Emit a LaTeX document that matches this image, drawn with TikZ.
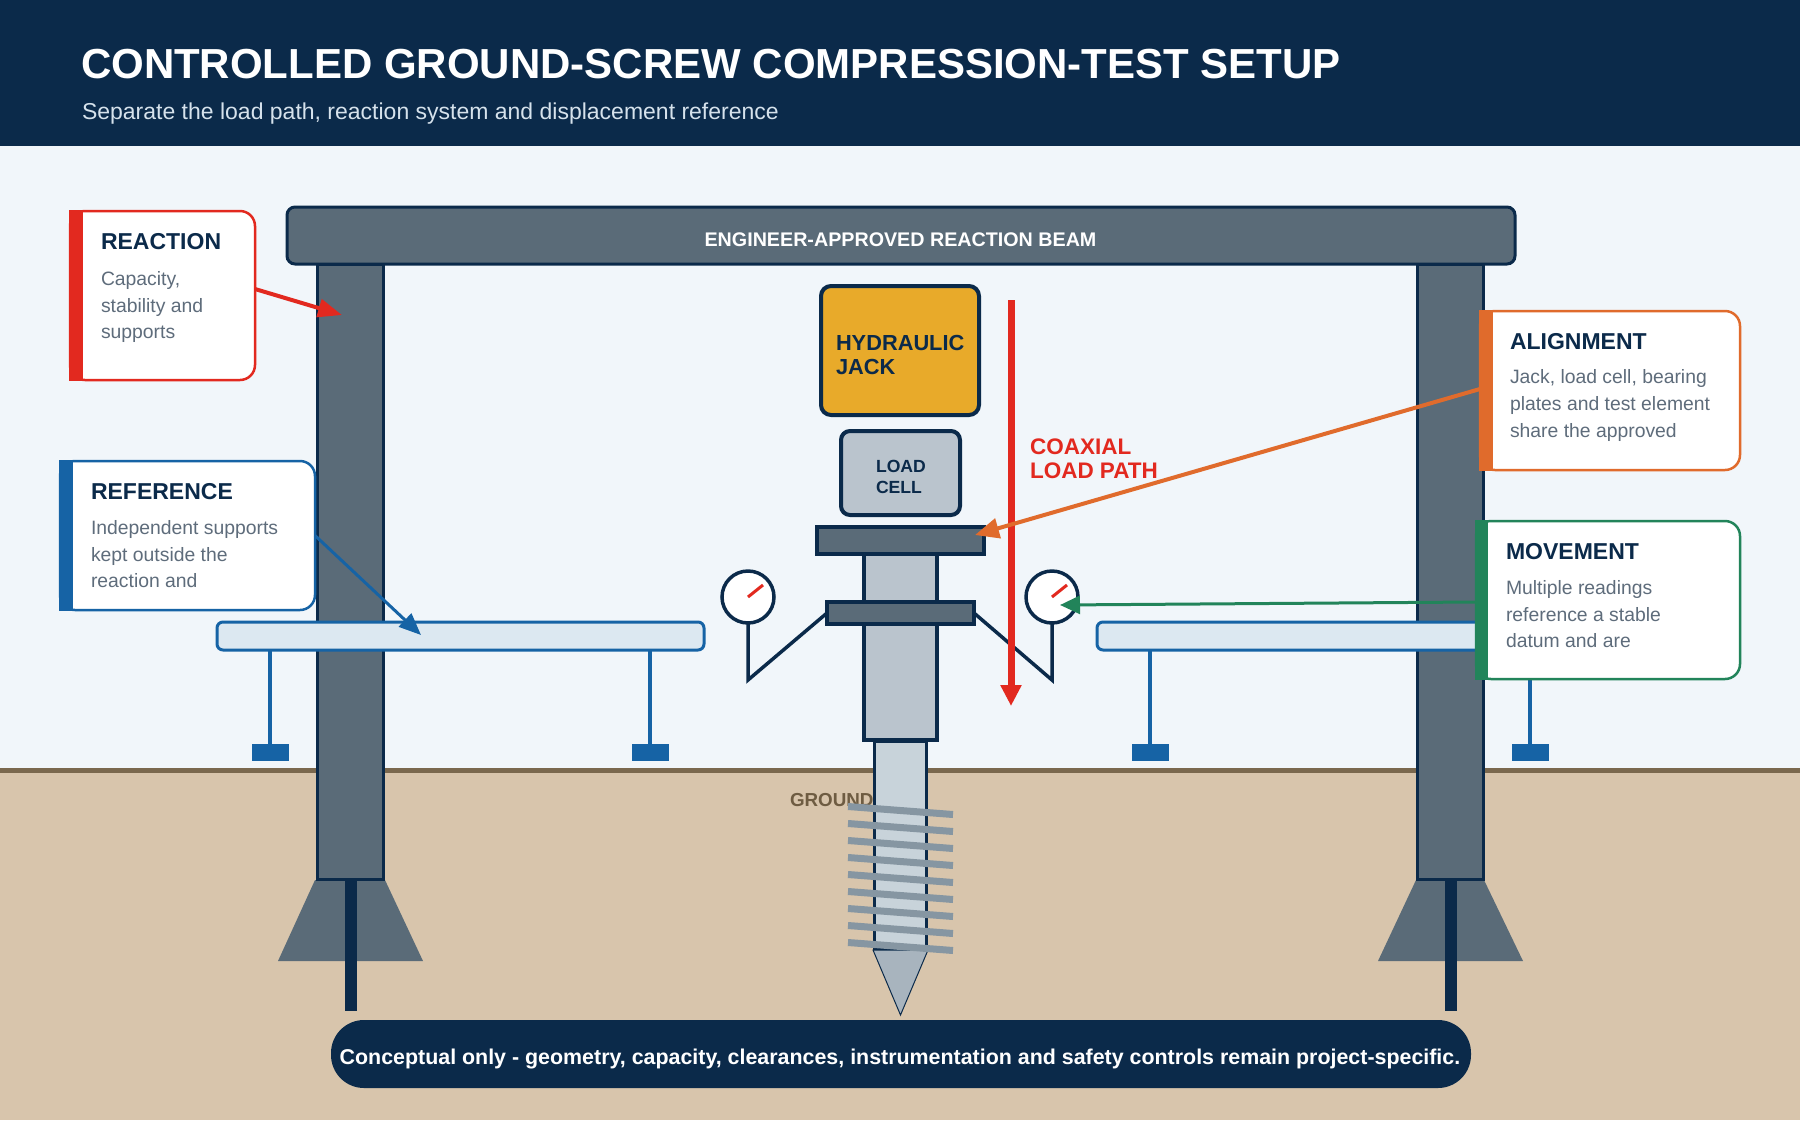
\documentclass[tikz,border=0pt]{standalone}
\usepackage{fontspec}
\setmainfont{Liberation Sans}
\usetikzlibrary{arrows.meta}
\definecolor{navy}{HTML}{0B2A4A}
\definecolor{steel}{HTML}{5A6B78}
\definecolor{bglight}{HTML}{F1F6FA}
\definecolor{groundc}{HTML}{D8C5AC}
\definecolor{groundl}{HTML}{7A684E}
\definecolor{refb}{HTML}{DCE8F1}
\definecolor{refs}{HTML}{1663A5}
\definecolor{jackc}{HTML}{E8AA2A}
\definecolor{cellc}{HTML}{BAC4CD}
\definecolor{shaftc}{HTML}{C8D3DA}
\definecolor{tipc}{HTML}{A8B4BE}
\definecolor{helixc}{HTML}{8696A2}
\definecolor{redc}{HTML}{E2291F}
\definecolor{orangec}{HTML}{E06B2C}
\definecolor{greenc}{HTML}{22845A}
\definecolor{greyt}{HTML}{5E6C7B}
\definecolor{subc}{HTML}{D6E2EC}
\definecolor{groundt}{HTML}{6E5C42}
\newcommand\fTitle{\fontsize{42}{50}\selectfont\bfseries}
\newcommand\fSub{\fontsize{23}{28}\selectfont}
\newcommand\fBeam{\fontsize{19.7}{24}\selectfont\bfseries}
\newcommand\fJack{\fontsize{21.8}{24}\selectfont\bfseries}
\newcommand\fCoax{\fontsize{22.5}{24}\selectfont\bfseries}
\newcommand\fCell{\fontsize{17.6}{21}\selectfont\bfseries}
\newcommand\fGround{\fontsize{18.8}{22}\selectfont\bfseries}
\newcommand\fCTitle{\fontsize{23}{27}\selectfont\bfseries}
\newcommand\fBody{\fontsize{19.35}{27}\selectfont}
\newcommand\fBanner{\fontsize{21.4}{25}\selectfont\bfseries}
\begin{document}
\begin{tikzpicture}[x=1pt,y=-1pt,
  every node/.style={inner sep=0pt, outer sep=0pt},
  steelbox/.style={draw=navy, line width=3pt, fill=steel},
  callout/.style={draw=#1, line width=2.5pt, fill=white, rounded corners=15pt, anchor=north west},
  ctitle/.style={anchor=base west, text=navy, font=\fCTitle},
  cbody/.style={anchor=base west, text=greyt, font=\fBody},
  gauge/.style={circle, draw=navy, line width=3.5pt, fill=white, minimum size=52pt},
  reflegs/.style={refs, line width=4pt},
]
\useasboundingbox (0,0) rectangle (1800,1120);
% backgrounds
\fill[bglight] (0,0) rectangle (1800,1120);
\fill[navy] (0,0) rectangle (1800,146);
\fill[groundc] (0,770) rectangle (1800,1120);
\draw[groundl, line width=4.5pt] (0,770.5) -- (1800,770.5);
% header
\node[anchor=base west, text=white, font=\fTitle] (title) at (81,78) {CONTROLLED GROUND-SCREW COMPRESSION-TEST SETUP};
\node[anchor=base west, text=subc, font=\fSub] (subtitle) at (82,119) {Separate the load path, reaction system and displacement reference};
% footings and rods
\fill[steel] (315,880) -- (385,880) -- (423,961) -- (278,961) -- cycle;
\fill[steel] (1416,880) -- (1484,880) -- (1523,961) -- (1378,961) -- cycle;
\fill[navy] (345,879) rectangle (357,1011);
\fill[navy] (1445,879) rectangle (1457,1011);
% columns
\draw[steelbox] (317.5,264) rectangle (383.5,879);
\draw[steelbox] (1417.5,264) rectangle (1483.5,879);
% beam
\node[steelbox, rounded corners=8pt, minimum width=1228pt, minimum height=57pt, anchor=north west] (beam) at (287,207) {};
\node[anchor=base, text=white, font=\fBeam] (beamlbl) at (900.5,246) {ENGINEER-APPROVED REACTION BEAM};
% reference beams
\draw[reflegs] (270,650) -- (270,745);
\draw[reflegs] (650,650) -- (650,745);
\draw[reflegs] (1150,650) -- (1150,745);
\draw[reflegs] (1530,650) -- (1530,745);
\fill[refs] (251.5,744) rectangle (288.5,761);
\fill[refs] (631.5,744) rectangle (668.5,761);
\fill[refs] (1131.5,744) rectangle (1168.5,761);
\fill[refs] (1511.5,744) rectangle (1548.5,761);
\node[draw=refs, fill=refb, line width=3pt, rounded corners=6pt, minimum width=487pt, minimum height=28pt, anchor=north west] (refL) at (217,622) {};
\node[draw=refs, fill=refb, line width=3pt, rounded corners=6pt, minimum width=487pt, minimum height=28pt, anchor=north west] (refR) at (1097,622) {};
% jack and load cell
\node[draw=navy, line width=4pt, fill=jackc, rounded corners=10pt, minimum width=158pt, minimum height=129pt, anchor=north west] (jack) at (821,286) {};
\node[anchor=base west, text=navy, font=\fJack] (jackA) at (836,350) {HYDRAULIC};
\node[anchor=base west, text=navy, font=\fJack] (jackB) at (836,374) {JACK};
\node[draw=navy, line width=4pt, fill=cellc, rounded corners=9pt, minimum width=119pt, minimum height=84pt, anchor=north west] (cell) at (841,431) {};
\node[anchor=base west, text=navy, font=\fCell] (cellA) at (876,472) {LOAD};
\node[anchor=base west, text=navy, font=\fCell] (cellB) at (876,493) {CELL};
% ram, shaft, helix, tip
\draw[navy, line width=3.5pt, fill=cellc] (864,554) rectangle (937,740);
\node[anchor=base west, text=groundt, font=\fGround] (groundlbl) at (790,806) {GROUND};
\draw[navy, line width=3pt, fill=shaftc] (874.5,741) rectangle (926.5,949);
\draw[navy, line width=1pt, fill=tipc] (873,950) -- (928,950) -- (900.5,1015) -- cycle;
\foreach \k in {0,...,8} \draw[helixc, line width=7pt] (848,{806.5+17*\k}) -- (953,{814.5+17*\k});
% plates
\node[steelbox, line width=3.5pt, minimum width=167pt, minimum height=27pt, anchor=north west] (plateT) at (817,527) {};
\node[steelbox, line width=3.5pt, minimum width=147pt, minimum height=22pt, anchor=north west] (plateM) at (827,602) {};
% gauges
\draw[navy, line width=3.5pt] (748,597) -- (748,680) -- (plateM.west);
\draw[navy, line width=3.5pt] (1052,597) -- (1052,680) -- (plateM.east);
\node[gauge] (gaugeL) at (748,597) {};
\node[gauge] (gaugeR) at (1052,597) {};
\draw[redc, line width=3pt] (gaugeL.center) -- ++(15,-12);
\draw[redc, line width=3pt] (gaugeR.center) -- ++(15,-12);
% coaxial load path
\coordinate (coaxTop) at (1011,300);
\coordinate (coaxBot) at (1011,706);
\draw[redc, line width=7pt, -{Triangle[length=21pt,width=20pt]}] (coaxTop) -- (coaxBot);
\node[anchor=base west, text=redc, font=\fCoax] (coaxA) at (1030,454) {COAXIAL};
\node[anchor=base west, text=redc, font=\fCoax] (coaxB) at (1030,478) {LOAD PATH};
% callouts
\node[callout=redc, minimum width=185pt, minimum height=169pt] (reac) at (70,211) {};
\fill[redc] (69,209.75) rectangle (83,381.25);
\node[ctitle] (reacT) at (101,249) {REACTION};
\node[cbody] (reac1) at (101,285) {Capacity,};
\node[cbody] (reac2) at (101,312) {stability and};
\node[cbody] (reac3) at (101,338) {supports};
\node[callout=refs, minimum width=255pt, minimum height=149pt] (ref) at (60,461) {};
\fill[refs] (59,459.75) rectangle (73,611.25);
\node[ctitle] (refT) at (91,499) {REFERENCE};
\node[cbody] (ref1) at (91,534) {Independent supports};
\node[cbody] (ref2) at (91,561) {kept outside the};
\node[cbody] (ref3) at (91,587) {reaction and};
\node[callout=orangec, minimum width=260pt, minimum height=159pt] (align) at (1480,311) {};
\fill[orangec] (1479,309.75) rectangle (1493,471.25);
\node[ctitle] (alignT) at (1510,349) {ALIGNMENT};
\node[cbody] (align1) at (1510,383) {Jack, load cell, bearing};
\node[cbody] (align2) at (1510,410) {plates and test element};
\node[cbody] (align3) at (1510,437) {share the approved};
\node[callout=greenc, minimum width=264pt, minimum height=158pt] (move) at (1476,521) {};
\fill[greenc] (1475,519.75) rectangle (1488,680.25);
\node[ctitle] (moveT) at (1506,559) {MOVEMENT};
\node[cbody] (move1) at (1506,594) {Multiple readings};
\node[cbody] (move2) at (1506,621) {reference a stable};
\node[cbody] (move3) at (1506,647) {datum and are};
% callout arrows
\coordinate (reacEnd) at (342,315);
\coordinate (refEnd) at (421,635);
\coordinate (alignEnd) at (975,535);
\coordinate (moveEnd) at (1060,605);
\draw[redc, line width=4pt, -{Triangle[length=24pt,width=18pt]}] ([yshift=6.5pt]reac.east) -- (reacEnd);
\draw[refs, line width=3pt, -{Triangle[length=22pt,width=18pt]}] (ref.east) -- (refEnd);
\draw[orangec, line width=4pt, -{Triangle[length=24pt,width=20pt]}] ([yshift=1.5pt]align.west) -- (alignEnd);
\draw[greenc, line width=3pt, -{Triangle[length=20pt,width=18pt]}] ([yshift=-2pt]move.west) -- (moveEnd);
% banner
\node[fill=navy, rounded corners=33pt, minimum width=1140pt, minimum height=68pt] (banner) at (901,1054) {};
\node[anchor=base, text=white, font=\fBanner] (bannerT) at (900,1064) {Conceptual only - geometry, capacity, clearances, instrumentation and safety controls remain project-specific.};
\end{tikzpicture}
\end{document}
